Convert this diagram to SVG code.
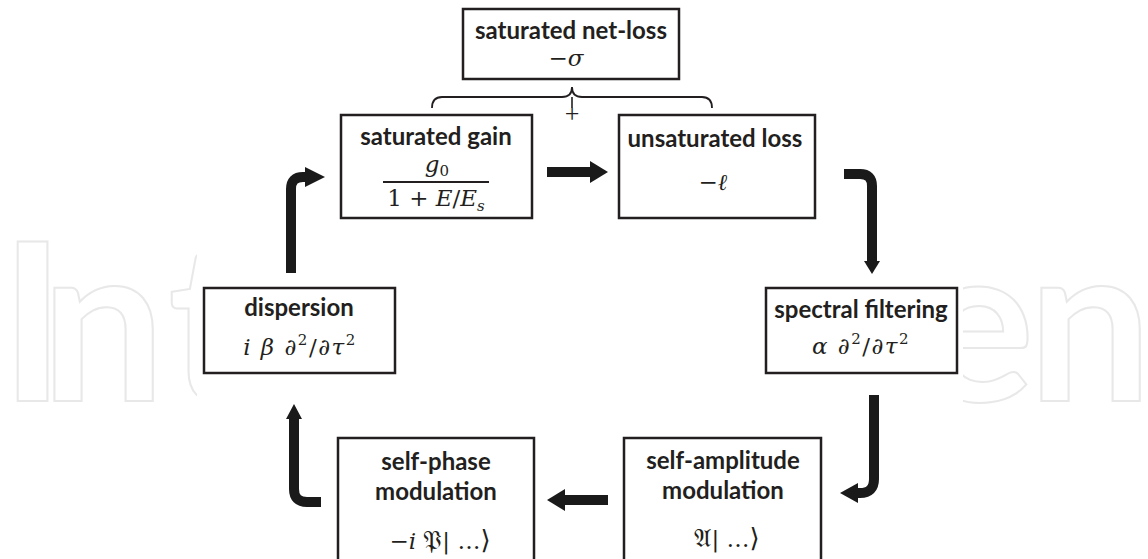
<svg xmlns="http://www.w3.org/2000/svg" width="1148" height="559" viewBox="0 0 1148 559">
<style>
.box{fill:#fff;stroke:#231f20;stroke-width:2.5}
.t{font-family:Lato,"Open Sans",sans-serif;font-weight:700;font-size:24px;fill:#231f20;text-anchor:middle}
.m{font-family:"DejaVu Serif","Liberation Serif",serif;font-size:23px;fill:#231f20;text-anchor:middle}
.i{font-style:italic}
.sp{font-size:15px}
.fk{font-size:26px}
.sh{fill:none;stroke:#1a1a1a;stroke-width:10}
.hd{fill:#1a1a1a}
.wm{font-family:Lato,sans-serif;font-weight:700;font-size:220px;fill:#fff;stroke:#e8e8e8;stroke-width:2}
</style>
<rect width="1148" height="559" fill="#fff"/>
<g id="watermark">
<text class="wm" x="0 41 168" y="401">Int</text>
<text class="wm" x="917 1028" y="401">en</text>
<rect x="197" y="230" width="766" height="200" fill="#fff"/>
</g>
<g id="connectors">
<path d="M432,108 Q432,97 442,97 L562,97 Q572,97 572,87 Q572,97 582,97 L702,97 Q712,97 712,108" fill="none" stroke="#231f20" stroke-width="1.8"/>
<line x1="572" y1="97" x2="572" y2="108" stroke="#231f20" stroke-width="1.6"/>
<text x="572" y="122" font-family="Liberation Serif,serif" font-size="26" fill="#231f20" text-anchor="middle">+</text>
<line class="sh" x1="547" y1="172" x2="592" y2="172"/>
<polygon class="hd" points="590,161 608,172 590,183"/>
<path class="sh" d="M844,174 L860,174 Q872,174 872,186 L872,262"/>
<polygon class="hd" points="864,261 880,261 872,274"/>
<path class="sh" d="M874,395 L874,479 Q874,493 860,493 L856,493"/>
<polygon class="hd" points="858,483 840,493 858,503"/>
<line class="sh" x1="608" y1="500" x2="563" y2="500"/>
<polygon class="hd" points="565,489 547,500 565,511"/>
<path class="sh" d="M321,502 L307,502 Q294,502 294,489 L294,418"/>
<polygon class="hd" points="286,419 294,404 302,419"/>
<path class="sh" d="M291,273 L291,189 Q291,177 303,177 L307,177"/>
<polygon class="hd" points="305,167 325,177 305,187"/>
</g>
<g id="node-netloss">
<rect class="box" x="463" y="9" width="216" height="70"/>
<text class="t" x="571" y="39">saturated net-loss</text>
<text class="m" x="566" y="66">−<tspan class="i">σ</tspan></text>
</g>
<g id="node-gain">
<rect class="box" x="341" y="115" width="191" height="103"/>
<text class="t" x="436" y="145">saturated gain</text>
<text class="m" x="437" y="172"><tspan class="i">g</tspan><tspan class="sp" dy="4">0</tspan></text>
<line x1="383" y1="182" x2="489" y2="182" stroke="#231f20" stroke-width="2"/>
<text class="m" x="436" y="206">1 + <tspan class="i">E</tspan>/<tspan class="i">E</tspan><tspan class="i sp" dy="5">s</tspan></text>
</g>
<g id="node-loss">
<rect class="box" x="619" y="115" width="196" height="103"/>
<text class="t" x="715" y="147">unsaturated loss</text>
<text class="m" x="713" y="190">−<tspan class="i">ℓ</tspan></text>
</g>
<g id="node-spectral">
<rect class="box" x="766" y="288" width="191" height="85"/>
<text class="t" x="861" y="318">spectral filtering</text>
<text class="m" x="861" y="354" letter-spacing="1.5"><tspan class="i">α</tspan> ∂<tspan class="sp" dy="-10">2</tspan><tspan dy="10">/∂</tspan><tspan class="i">τ</tspan><tspan class="sp" dy="-10">2</tspan></text>
</g>
<g id="node-dispersion">
<rect class="box" x="204" y="288" width="191" height="85"/>
<text class="t" x="299" y="316">dispersion</text>
<text class="m" x="300" y="355" letter-spacing="1.5"><tspan class="i">i</tspan> <tspan class="i">β</tspan> ∂<tspan class="sp" dy="-10">2</tspan><tspan dy="10">/∂</tspan><tspan class="i">τ</tspan><tspan class="sp" dy="-10">2</tspan></text>
</g>
<g id="node-sam">
<rect class="box" x="624" y="438" width="197" height="130"/>
<text class="t" x="723" y="469">self-amplitude</text>
<text class="t" x="723" y="499">modulation</text>
<text class="m" x="727" y="547"><tspan class="fk">𝔄</tspan>| …<tspan class="fk">⟩</tspan></text>
</g>
<g id="node-spm">
<rect class="box" x="338" y="438" width="196" height="130"/>
<text class="t" x="436" y="470">self-phase</text>
<text class="t" x="436" y="500">modulation</text>
<text class="m" x="440" y="549">−<tspan class="i">i</tspan> <tspan class="fk">𝔓</tspan>| …<tspan class="fk">⟩</tspan></text>
</g>
</svg>
